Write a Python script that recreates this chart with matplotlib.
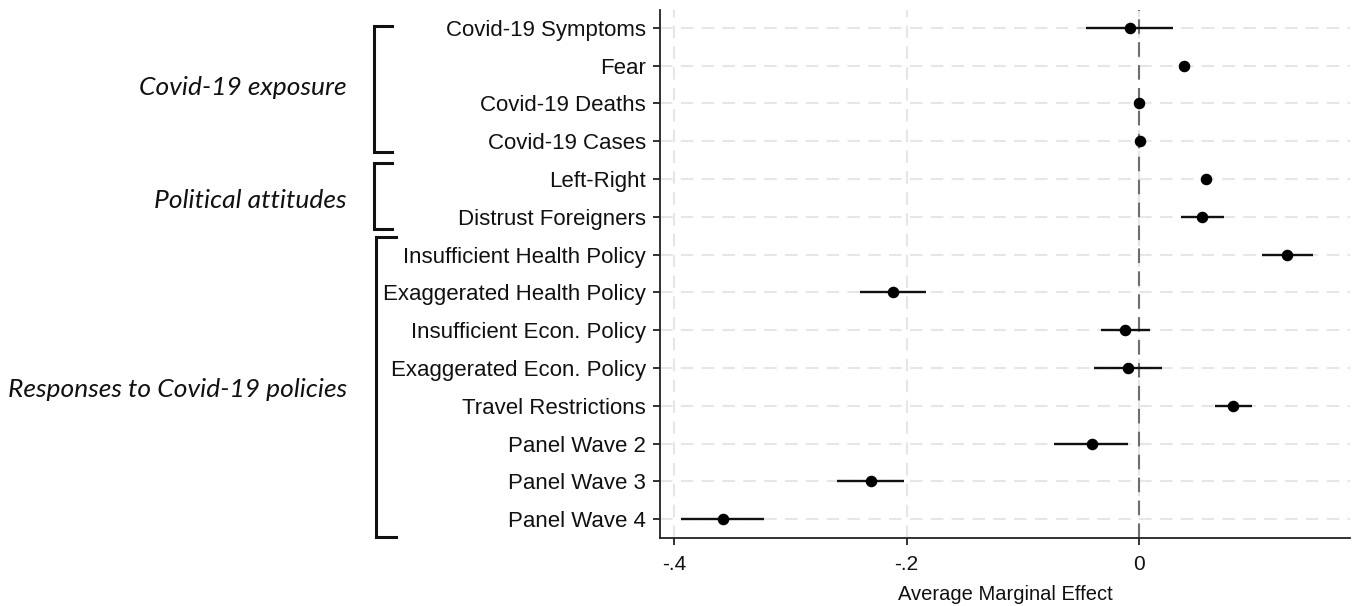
import matplotlib
matplotlib.use("Agg")
import matplotlib.pyplot as plt
import matplotlib.transforms as mtransforms
import numpy as np

# ---- data ----
labels = ["Covid-19 Symptoms", "Fear", "Covid-19 Deaths", "Covid-19 Cases",
          "Left-Right", "Distrust Foreigners",
          "Insufficient Health Policy", "Exaggerated Health Policy",
          "Insufficient Econ. Policy", "Exaggerated Econ. Policy",
          "Travel Restrictions", "Panel Wave 2", "Panel Wave 3", "Panel Wave 4"]
estimates = [-0.0085, 0.0383, -0.0003, 0.0002,
             0.0572, 0.0541,
             0.1265, -0.2120,
             -0.0120, -0.0097,
             0.0801, -0.0410, -0.2310, -0.3580]
ci_low = [-0.0460, 0.0375, -0.0010, -0.0005,
          0.0540, 0.0358,
          0.1050, -0.2402,
          -0.0326, -0.0389,
          0.0647, -0.0730, -0.2600, -0.3940]
ci_high = [0.0290, 0.0391, 0.0004, 0.0009,
           0.0610, 0.0727,
           0.1488, -0.1834,
           0.0089, 0.0197,
           0.0964, -0.0100, -0.2020, -0.3230]
groups = ["Covid-19 exposure", "Political attitudes", "Responses to Covid-19 policies"]
group_rows = [(0, 3), (4, 5), (6, 13)]
xticks = [-0.4, -0.2, 0.0]
xticklabels = ["-.4", "-.2", "0"]
xlabel = "Average Marginal Effect"

W, H = 1354, 606
fig = plt.figure(figsize=(W / 100, H / 100), dpi=100)
ax = fig.add_axes([660 / W, 1 - 538 / H, (1350 - 660) / W, (538 - 10) / H])

y = np.arange(len(labels))
ax.set_xlim(-0.412, 0.181)
ax.set_ylim(len(labels) - 0.5, -0.47)

# grid
for yy in y:
    ax.axhline(yy, color="#e6e6e6", lw=1.5, ls=(0, (6, 4)), zorder=0)
for xx in xticks:
    ax.axvline(xx, color="#e6e6e6", lw=1.5, ls=(0, (6, 4)), zorder=0)
ax.axvline(0, color="#6e6e6e", lw=1.5, ls=(0, (7, 4)), zorder=1)

ax.hlines(y, ci_low, ci_high, color="#111111", lw=1.7, zorder=3)
ax.plot(estimates, y, "o", color="#000000", ms=7.3, zorder=4)

ax.set_yticks(y)
ax.set_yticklabels(labels, fontsize=16, family="Liberation Sans", color="#111111")
ax.set_xticks(xticks)
ax.set_xticklabels(xticklabels, fontsize=15, family="Liberation Sans", color="#111111")
ax.set_xlabel(xlabel, fontsize=14.5, family="Liberation Sans", labelpad=8, color="#111111")
ax.tick_params(axis="y", length=5, width=1.3, color="#222222", pad=5)
ax.tick_params(axis="x", length=5, width=1.3, color="#222222", pad=7)
for s in ["top", "right"]:
    ax.spines[s].set_visible(False)
for s in ["left", "bottom"]:
    ax.spines[s].set_linewidth(1.3)
    ax.spines[s].set_color("#222222")

# group brackets and labels
trans = mtransforms.blended_transform_factory(fig.transFigure, ax.transData)
pads = [(-0.05, 0.29), (-0.42, 0.32), (-0.47, 0.47)]
xv = [374 / W, 374 / W, 376 / W]
xstub = [392 / W, 392 / W, 396 / W]
for g, (r0, r1), (pt, pb), xa, xb in zip(groups, group_rows, pads, xv, xstub):
    top = r0 + pt
    bot = r1 + pb
    fig.add_artist(plt.Line2D([xb, xa, xa, xb], [top, top, bot, bot],
                              transform=trans, color="#111111", lw=2.2,
                              solid_joinstyle="miter"))
    fig.text(347 / W, (r0 + r1) / 2 + 0.08, g, transform=trans,
             ha="right", va="center", fontsize=19, style="italic",
             family="Lato", color="#111111")

fig.savefig("out.png", dpi=100)
